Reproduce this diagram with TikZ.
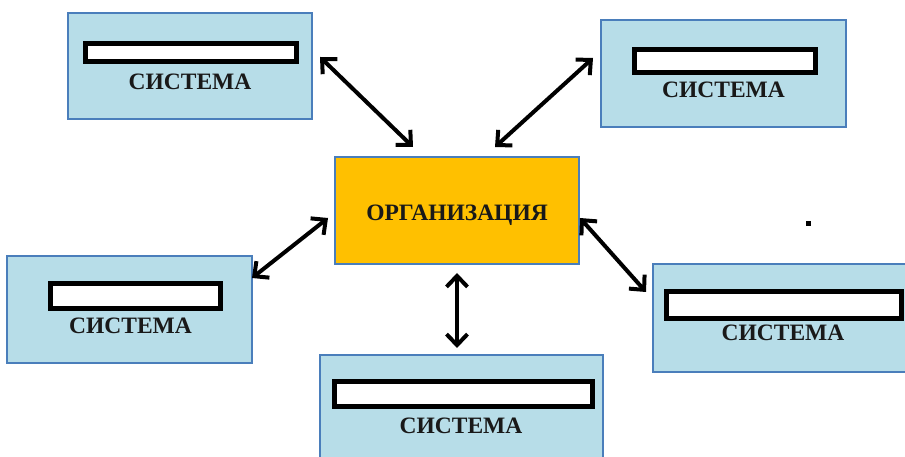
\documentclass[tikz,border=0pt]{standalone}
\usepackage{fontspec}
\setmainfont{Liberation Serif}
\usetikzlibrary{arrows.meta}
\definecolor{boxblue}{HTML}{B7DDE8}
\definecolor{edgeblue}{HTML}{4A7EBB}
\definecolor{orgorange}{HTML}{FFC000}
\begin{document}
\begin{tikzpicture}[x=1bp,y=-1bp,
  sysbox/.style={draw=edgeblue, fill=boxblue, line width=1.5bp, inner sep=0pt, outer sep=0pt},
  orgbox/.style={draw=edgeblue, fill=orgorange, line width=1.5bp, inner sep=0pt, outer sep=0pt},
  slot/.style={draw=black, fill=white, line width=5bp, inner sep=0pt, outer sep=0pt},
  lbl/.style={font=\bfseries\fontsize{23.5bp}{26bp}\selectfont, inner sep=0pt, text height=15.5bp, text depth=0pt, text=black!90},
  arr/.style={line width=4bp, {Straight Barb[length=11bp,width=21bp]}-{Straight Barb[length=11bp,width=21bp]}}
]
\useasboundingbox (0,0) rectangle (905,457);
\clip (0,0) rectangle (905,457);

% system boxes
\node[sysbox, minimum width=244bp, minimum height=106bp] (s1) at (190,66) {};
\node[sysbox, minimum width=245bp, minimum height=107bp] (s2) at (723.5,73.5) {};
\node[sysbox, minimum width=245bp, minimum height=107bp] (s3) at (129.5,309.5) {};
\node[sysbox, minimum width=262bp, minimum height=108bp] (s4) at (784,318) {};
\node[sysbox, minimum width=283bp, minimum height=107bp] (s5) at (461.5,408.5) {};

% white slots
\node[slot, minimum width=211bp, minimum height=18bp] (w1) at (191,52.5) {};
\node[slot, minimum width=181bp, minimum height=23bp] (w2) at (725,61) {};
\node[slot, minimum width=170bp, minimum height=25bp] (w3) at (135.5,296) {};
\node[slot, minimum width=235bp, minimum height=27bp] (w4) at (784,305) {};
\node[slot, minimum width=258bp, minimum height=25bp] (w5) at (463.5,394) {};

% labels
\node[lbl] (t1) at (190,82) {СИСТЕМА};
\node[lbl] (t2) at (723.5,90) {СИСТЕМА};
\node[lbl] (t3) at (130.5,326) {СИСТЕМА};
\node[lbl] (t4) at (783,333) {СИСТЕМА};
\node[lbl] (t5) at (461,426) {СИСТЕМА};

% organisation
\node[orgbox, minimum width=244bp, minimum height=107bp] (org) at (457,210.5) {};
\node[lbl] (torg) at (457,213) {ОРГАНИЗАЦИЯ};

% dot
\node[fill=black, minimum size=5bp, inner sep=0pt] (dot) at (808,224) {};

% connectors
\draw[arr] ([shift={(8,-9)}]s1.east) -- ([shift={(78,-10)}]org.north west);
\draw[arr] ([shift={(-8,-15.5)}]s2.west) -- ([shift={(-84,-10)}]org.north east);
\draw[arr] ([shift={(-7,7.5)}]org.west) -- ([shift={(0,-31.5)}]s3.east);
\draw[arr] ([shift={(1,7.5)}]org.east) -- ([shift={(-7,-26)}]s4.west);
\draw[arr] ([shift={(0,9)}]org.south) -- ([shift={(0,-7)}]org.south |- s5.north);
\end{tikzpicture}
\end{document}
